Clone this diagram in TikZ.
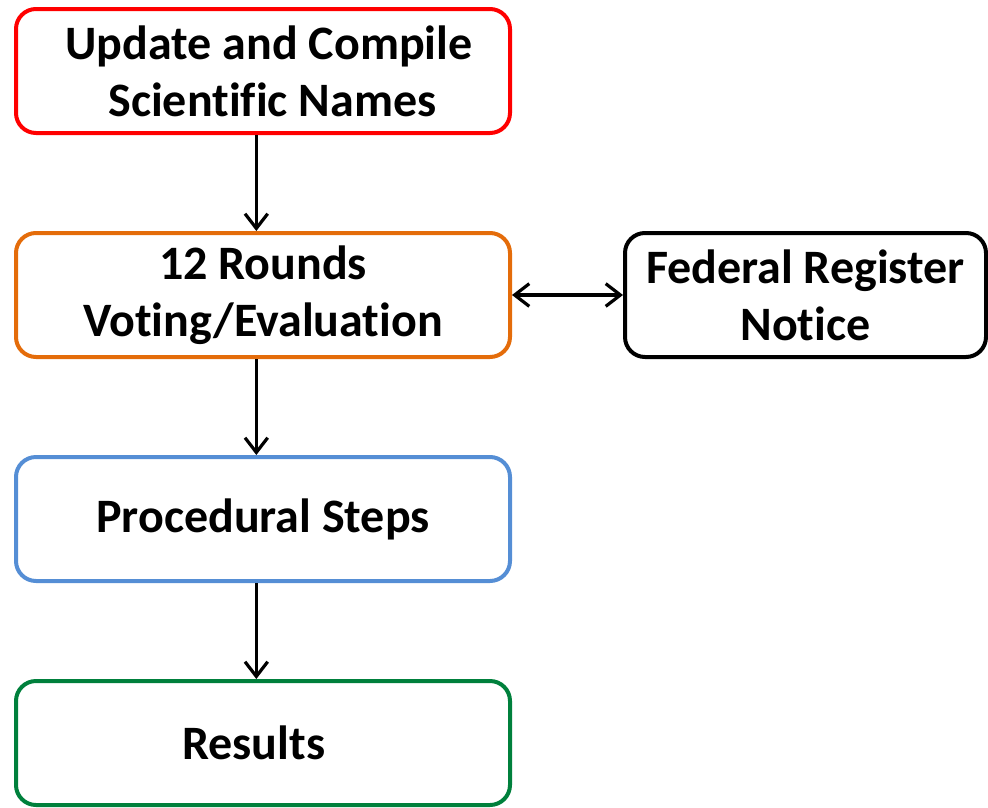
\documentclass[tikz,border=0pt]{standalone}
\usepackage{fontspec}
\setmainfont[Ligatures=NoCommon]{Carlito}
\usetikzlibrary{arrows.meta}

\definecolor{namesred}{RGB}{255,0,0}
\definecolor{roundsorange}{RGB}{228,108,10}
\definecolor{stepsblue}{RGB}{85,142,213}
\definecolor{resultsgreen}{RGB}{0,128,60}

\tikzset{every picture/.style={line width=0.75pt}}
\tikzset{
	flowbox/.style={draw, rounded corners=15pt, line width=3pt, minimum width=370.5pt, minimum height=93pt, inner sep=0pt, align=center, font=\fontsize{36}{43}\selectfont\bfseries},
	flowarrow/.style={line width=2.4pt, -{Straight Barb[length=11pt,width=17pt]}},
	botharrow/.style={line width=2.4pt, {Straight Barb[length=11pt,width=17pt]}-{Straight Barb[length=11pt,width=17pt]}}
}

\begin{document}
\begin{tikzpicture}[x=0.75pt,y=0.75pt,yscale=-1,xscale=1]
	\useasboundingbox (0,0) rectangle (988,807);
	
	%Shape: Rounded Rectangle [id:names] 
	\node [flowbox, draw=namesred] (names) at (263,71) {\hspace{9pt}Update and Compile\\\hspace{14pt}Scientific Names};
	%Shape: Rounded Rectangle [id:rounds] 
	\node [flowbox, draw=roundsorange] (rounds) at (263,295) {12 Rounds\\Voting/Evaluation};
	%Shape: Rounded Rectangle [id:steps] 
	\node [flowbox, draw=stepsblue] (steps) at (263,519) {Procedural Steps};
	%Shape: Rounded Rectangle [id:results] 
	\node [flowbox, draw=resultsgreen] (results) at (263,743) {Results\hspace{14pt}};
	%Shape: Rounded Rectangle [id:notice] 
	\node [flowbox, draw=black, minimum width=270.75pt] (notice) at (805.5,295) {Federal Register\\Notice};
	
	%Straight Lines [id:names-rounds] 
	\draw [flowarrow] ([xshift=-5pt]names.south) -- ([xshift=-5pt]rounds.north) ;
	%Straight Lines [id:rounds-steps] 
	\draw [flowarrow] ([xshift=-5pt]rounds.south) -- ([xshift=-5pt]steps.north) ;
	%Straight Lines [id:steps-results] 
	\draw [flowarrow] ([xshift=-5pt]steps.south) -- ([xshift=-5pt]results.north) ;
	%Straight Lines [id:rounds-notice] 
	\draw [botharrow] (rounds) -- (notice) ;
	
\end{tikzpicture}
\end{document}
